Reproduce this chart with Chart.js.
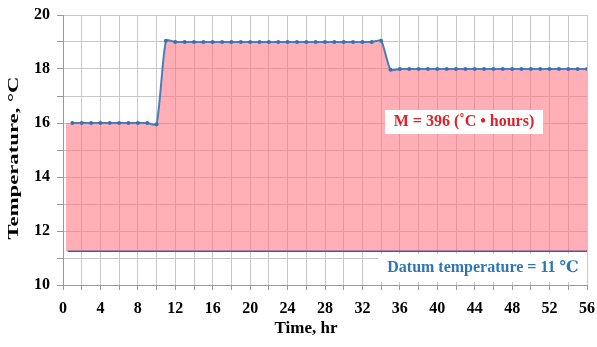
<!DOCTYPE html>
<html>
<head>
<meta charset="utf-8">
<script src="https://cdn.jsdelivr.net/npm/chart.js@4/dist/chart.umd.min.js"></script>
<style>
  html, body { margin: 0; padding: 0; background: #fff; }
  #wrap { width: 597px; height: 347px; }
</style>
</head>
<body>
<div id="wrap"><canvas id="chart" width="597" height="347"></canvas></div>
<script>
// hourly readings
const hours = [1, 2, 3, 4, 5, 6, 7, 8, 9, 10, 11, 12, 13, 14, 15, 16, 17, 18, 19, 20,
  21, 22, 23, 24, 25, 26, 27, 28, 29, 30, 31, 32, 33, 34, 35, 36, 37, 38, 39, 40,
  41, 42, 43, 44, 45, 46, 47, 48, 49, 50, 51, 52, 53, 54, 55, 56]
const temps = [16, 16, 16, 16, 16, 16, 16, 16, 16, 15.95, 19.05, 19, 19, 19, 19, 19, 19, 19, 19, 19,
  19, 19, 19, 19, 19, 19, 19, 19, 19, 19, 19, 19, 19, 19.05, 17.97, 18, 18, 18, 18, 18,
  18, 18, 18, 18, 18, 18, 18, 18, 18, 18, 18, 18, 18, 18, 18, 18]

// shaded area starts a little before the first reading
const areaStart = { x: 0.3, y: 16 }
const datumLevel = 11.25
const datumStart = 0.5
const xTicks = [0, 4, 8, 12, 16, 20, 24, 28, 32, 36, 40, 44, 48, 52, 56]
const yTicks = [10, 12, 14, 16, 18, 20]

const xTitle = 'Time, hr'
const yTitle = 'Temperature, °C'
const mLabel = 'M = 396 (˚C • hours)'
const datumLabel = 'Datum temperature = 11 ℃'

const serif = '"Liberation Serif", "DejaVu Serif", serif'

const points = hours.map((h, i) => ({ x: h, y: temps[i] }))

const notes = {
  id: 'notes',
  afterDatasetsDraw(chart) {
    const ctx = chart.ctx
    ctx.save()
    ctx.fillStyle = '#ffffff'
    ctx.fillRect(385, 110, 158, 24)
    ctx.fillRect(378, 254, 209, 28)
    ctx.font = 'bold 16px ' + serif
    ctx.textAlign = 'center'
    ctx.textBaseline = 'middle'
    ctx.fillStyle = '#e0202a'
    ctx.fillText(mLabel, 464, 122)
    ctx.fillStyle = '#2e75b6'
    ctx.fillText(datumLabel, 483, 268)

    // axis titles (the y one is stretched along its length, like the source)
    ctx.fillStyle = '#000'
    ctx.font = 'bold 17px ' + serif
    ctx.fillText(xTitle, 306, 329)
    ctx.font = 'bold 14px ' + serif
    ctx.translate(14, 158)
    ctx.rotate(-Math.PI / 2)
    ctx.scale(163 / ctx.measureText(yTitle).width, 1)
    ctx.fillText(yTitle, 0, 0)
    ctx.restore()
  }
}

new Chart(document.getElementById('chart').getContext('2d'), {
  type: 'line',
  data: {
    datasets: [
      {
        data: [areaStart, ...points],
        borderWidth: 0,
        pointRadius: 0,
        backgroundColor: 'rgba(255, 110, 120, 0.55)',
        fill: { value: datumLevel },
        order: 3
      },
      {
        data: [{ x: datumStart, y: datumLevel }, { x: 56, y: datumLevel }],
        borderColor: '#5b4fa0',
        borderWidth: 1.5,
        pointRadius: 0,
        fill: false,
        order: 2
      },
      {
        data: points,
        borderColor: '#4a7ebb',
        borderWidth: 2,
        pointRadius: 2,
        pointBackgroundColor: '#3d6fae',
        pointBorderWidth: 0,
        fill: false,
        tension: 0.2,
        order: 1
      }
    ]
  },
  options: {
    responsive: false,
    animation: false,
    layout: { padding: { left: 0, right: 10, top: 15, bottom: 0 } },
    plugins: {
      legend: { display: false },
      tooltip: { enabled: false }
    },
    scales: {
      x: {
        type: 'linear',
        min: 0,
        max: 56,
        afterFit: (s) => {
          s.height = 62
          s.paddingLeft = 0
          s.paddingRight = 0
        },
        ticks: {
          stepSize: 2,
          autoSkip: false,
          maxRotation: 0,
          padding: 9,
          color: '#000',
          font: { family: serif, size: 16, weight: 'bold' },
          callback: (v) => xTicks.includes(v) ? String(v) : ''
        },
        grid: { color: '#c8c8c8', tickLength: 5, tickColor: '#999' },
        border: { color: '#999' }
      },
      y: {
        min: 10,
        max: 20,
        afterFit: (s) => {
          s.width = 63
          s.paddingTop = 0
          s.paddingBottom = 0
        },
        ticks: {
          stepSize: 1,
          padding: 7,
          color: '#000',
          font: { family: serif, size: 16, weight: 'bold' },
          callback: (v) => yTicks.includes(v) ? String(v) : ''
        },
        grid: { color: '#c8c8c8', tickLength: 6, tickColor: '#999' },
        border: { color: '#999' }
      }
    }
  },
  plugins: [notes]
})
</script>
</body>
</html>
